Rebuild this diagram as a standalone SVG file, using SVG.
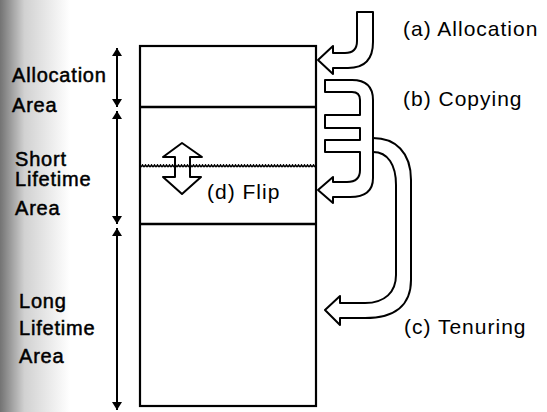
<svg xmlns="http://www.w3.org/2000/svg" width="547" height="412" viewBox="0 0 547 412">
<style>
.lbl{font-family:"Liberation Sans",Arial,sans-serif;font-size:20px;letter-spacing:0.8px;fill:#000;stroke:#000;stroke-width:0.5}
.cap{font-family:"Liberation Sans",Arial,sans-serif;font-size:21px;letter-spacing:1px;fill:#000}
.box{fill:none;stroke:#000;stroke-width:2.2}
.div{stroke:#000;stroke-width:2.6}
.hollow{fill:#fff;stroke:#000;stroke-width:2;stroke-linejoin:round}
.open{fill:none;stroke:#000;stroke-width:2;stroke-linejoin:round}
.dim{stroke:#000;stroke-width:2;fill:none}
</style>
<defs>
<linearGradient id="scan" x1="0" y1="0" x2="1" y2="0">
<stop offset="0" stop-color="#000" stop-opacity="0.55"/>
<stop offset="0.35" stop-color="#000" stop-opacity="0.18"/>
<stop offset="1" stop-color="#000" stop-opacity="0"/>
</linearGradient>
<marker id="ah" viewBox="0 0 8 10" refX="8" refY="5" markerWidth="4" markerHeight="5" orient="auto" markerUnits="strokeWidth">
<path d="M0,0 L8,5 L0,10 Z" fill="#000"/>
</marker>
<pattern id="zz" x="0" y="164" width="3" height="4" patternUnits="userSpaceOnUse">
<polyline points="0,3 1.5,1 3,3" fill="none" stroke="#000" stroke-width="1.6"/>
</pattern>
</defs>
<rect width="547" height="412" fill="#fff"/>
<rect x="0" y="0" width="70" height="412" fill="url(#scan)"/>

<g id="memory">
<rect class="box" x="140" y="46" width="176" height="360"/>
<line class="div" x1="140" y1="107" x2="316" y2="107"/>
<line class="div" x1="140" y1="224" x2="316" y2="224"/>
<rect x="141" y="164" width="174" height="4" fill="url(#zz)"/>
</g>

<g id="labels-left">
<text class="lbl" x="12" y="82">Allocation</text>
<text class="lbl" x="12" y="112">Area</text>
<text class="lbl" x="15" y="166">Short</text>
<text class="lbl" x="15" y="186">Lifetime</text>
<text class="lbl" x="15" y="215">Area</text>
<text class="lbl" x="19" y="308">Long</text>
<text class="lbl" x="19" y="335">Lifetime</text>
<text class="lbl" x="19" y="363">Area</text>
</g>

<g id="connectors">
<line class="dim" x1="117" y1="106" x2="117" y2="48" marker-end="url(#ah)"/>
<line class="dim" x1="117" y1="60" x2="117" y2="107" marker-end="url(#ah)"/>
<line class="dim" x1="117" y1="170" x2="117" y2="111" marker-end="url(#ah)"/>
<line class="dim" x1="117" y1="170" x2="117" y2="224" marker-end="url(#ah)"/>
<line class="dim" x1="117" y1="320" x2="117" y2="228" marker-end="url(#ah)"/>
<line class="dim" x1="117" y1="320" x2="117" y2="410" marker-end="url(#ah)"/>
</g>

<g id="arrow-allocation">
<path class="hollow" d="M357,12 L373,12 L373,42 Q373,68 348,68 L333,68 L333,74 L318,60 L333,46 L333,53 L345,53 Q357,53 357,41 Z"/>
<text class="cap" x="403" y="36">(a) Allocation</text>
</g>

<g id="arrow-copying">
<path class="hollow" d="M325,80 L352,80 Q373,80 373,100 L373,178 Q373,197 350,197 L333,197 L333,203 L318,190 L333,177 L333,182 L347,182 Q360,182 360,170 L360,152 L325,152 L325,140 L360,140 L360,128 L325,128 L325,115 L360,115 L360,100 Q360,92 352,92 L325,92 Z"/>
<text class="cap" x="403" y="106">(b) Copying</text>
</g>

<g id="arrow-tenuring">
<path class="open" d="M373,138 C395,138 411,152 411,180 L411,280 C411,305 395,318 365,318 L340,318 L340,325 L325,310 L340,296 L340,303 L365,303 C385,303 396,292 396,275 L396,185 C396,165 388,152 373,152"/>
<text class="cap" x="404" y="334">(c) Tenuring</text>
</g>

<g id="arrow-flip">
<path class="open" d="M182,143 L202,157 L190,157 L190,177 L201,177 L182,194 L163,177 L175,177 L175,157 L163,157 Z"/>
<text class="cap" x="207" y="199">(d) Flip</text>
</g>
</svg>
